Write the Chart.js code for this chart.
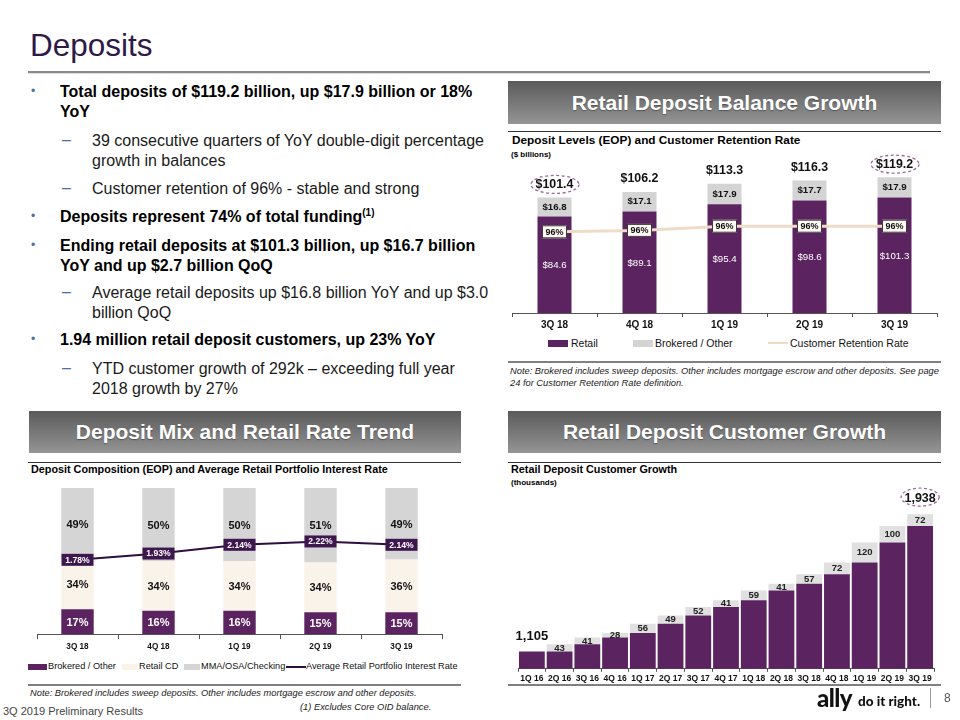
<!DOCTYPE html>
<html><head><meta charset="utf-8">
<script src="https://cdn.jsdelivr.net/npm/chart.js@4.4.1/dist/chart.umd.min.js"></script>
<style>
html,body{margin:0;padding:0;background:#fff;}
body{width:960px;height:720px;position:relative;overflow:hidden;font-family:Arial,"Liberation Sans",sans-serif;color:#000;}
.a{position:absolute;white-space:nowrap;}
.title{left:30px;top:25px;font-size:31.5px;color:#2f1a47;line-height:40px;}
.rule{position:absolute;}
.p{position:absolute;font-size:16px;line-height:19.5px;white-space:nowrap;}
.b{left:60px;font-weight:bold;color:#000;}
.s{left:92px;color:#1a1a1a;}
.mk{position:absolute;color:#4d6ca3;}
.hdr{position:absolute;height:42px;line-height:42px;text-align:center;color:#fff;font-weight:bold;font-size:21px;background:linear-gradient(to bottom,#5a5a5a,#959595);text-shadow:0 1px 1px rgba(0,0,0,0.35);}
.ct{position:absolute;font-weight:bold;white-space:nowrap;}
.sub{position:absolute;font-weight:bold;font-size:8px;white-space:nowrap;}
.note{position:absolute;font-style:italic;font-size:9.3px;color:#222;white-space:nowrap;}
.lg{position:absolute;white-space:nowrap;color:#111;}
.sw{position:absolute;}
canvas{position:absolute;}
</style></head><body>

<div class="a title">Deposits</div>
<div class="rule" style="left:28px;top:71px;width:902px;height:2px;background:#8a8a8a;box-shadow:0 1px 1px rgba(0,0,0,0.15);"></div>

<span class="mk" style="left:31px;top:84px;font-size:12px;">•</span>
<div class="p b" style="top:82px;">Total deposits of $119.2 billion, up $17.9 billion or 18%<br>YoY</div>
<span class="mk" style="left:62px;top:131px;font-size:16px;">–</span>
<div class="p s" style="top:131px;">39 consecutive quarters of YoY double-digit percentage<br>growth in balances</div>
<span class="mk" style="left:62px;top:179px;font-size:16px;">–</span>
<div class="p s" style="top:179px;">Customer retention of 96% - stable and strong</div>
<span class="mk" style="left:31px;top:209px;font-size:12px;">•</span>
<div class="p b" style="top:207px;">Deposits represent 74% of total funding<sup style="font-size:10px;line-height:0;">(1)</sup></div>
<span class="mk" style="left:31px;top:238px;font-size:12px;">•</span>
<div class="p b" style="top:236px;">Ending retail deposits at $101.3 billion, up $16.7 billion<br>YoY and up $2.7 billion QoQ</div>
<span class="mk" style="left:62px;top:283px;font-size:16px;">–</span>
<div class="p s" style="top:283px;">Average retail deposits up $16.8 billion YoY and up $3.0<br>billion QoQ</div>
<span class="mk" style="left:31px;top:332px;font-size:12px;">•</span>
<div class="p b" style="top:330px;">1.94 million retail deposit customers, up 23% YoY</div>
<span class="mk" style="left:62px;top:359px;font-size:16px;">–</span>
<div class="p s" style="top:359px;">YTD customer growth of 292k – exceeding full year<br>2018 growth by 27%</div>

<!-- Top right panel -->
<div class="hdr" style="left:508px;top:81px;width:433px;height:43px;line-height:43px;">Retail Deposit Balance Growth</div>
<div class="rule" style="left:508px;top:131px;width:433px;height:1px;background:#333;"></div>
<div class="ct" style="left:512px;top:133px;font-size:11.8px;">Deposit Levels (EOP) and Customer Retention Rate</div>
<div class="sub" style="left:511px;top:150px;">($ billions)</div>
<canvas id="c1" width="433" height="188" style="left:508px;top:145px;"></canvas>
<div class="sw" style="left:548px;top:340px;width:20px;height:7px;background:#5b2360;"></div>
<div class="lg" style="left:571px;top:337px;font-size:10.5px;">Retail</div>
<div class="sw" style="left:633px;top:340px;width:20px;height:7px;background:#d4d4d4;"></div>
<div class="lg" style="left:655px;top:337px;font-size:10.5px;">Brokered / Other</div>
<div class="sw" style="left:768px;top:342px;width:20px;height:2px;background:#efdcc6;"></div>
<div class="lg" style="left:790px;top:337px;font-size:10.5px;">Customer Retention Rate</div>
<div class="rule" style="left:508px;top:361px;width:433px;height:2px;background:#808080;"></div>
<div class="note" style="left:510px;top:366px;">Note: Brokered includes sweep deposits. Other includes mortgage escrow and other deposits. See page</div>
<div class="note" style="left:510px;top:378px;">24 for Customer Retention Rate definition.</div>

<!-- Bottom left panel -->
<div class="hdr" style="left:29px;top:411px;width:432px;">Deposit Mix and Retail Rate Trend</div>
<div class="rule" style="left:28px;top:462px;width:433px;height:1px;background:#333;"></div>
<div class="ct" style="left:31px;top:463px;font-size:10.8px;">Deposit Composition (EOP) and Average Retail Portfolio Interest Rate</div>
<canvas id="c2" width="433" height="170" style="left:28px;top:485px;"></canvas>
<div class="sw" style="left:28px;top:664px;width:19px;height:6px;background:#5b2360;"></div>
<div class="lg" style="left:48px;top:661px;font-size:9.2px;">Brokered / Other</div>
<div class="sw" style="left:122px;top:664px;width:16px;height:6px;background:#faf3ea;"></div>
<div class="lg" style="left:139px;top:661px;font-size:9.2px;">Retail CD</div>
<div class="sw" style="left:184px;top:664px;width:16px;height:6px;background:#d5d5d5;"></div>
<div class="lg" style="left:201px;top:661px;font-size:9.2px;">MMA/OSA/Checking</div>
<div class="sw" style="left:286px;top:666px;width:20px;height:2px;background:#2e0f3e;"></div>
<div class="lg" style="left:306px;top:661px;font-size:9.2px;">Average Retail Portfolio Interest Rate</div>
<div class="rule" style="left:28px;top:684px;width:433px;height:2px;background:#808080;"></div>
<div class="note" style="left:30px;top:688px;">Note: Brokered includes sweep deposits. Other includes mortgage escrow and other deposits.</div>
<div class="note" style="left:300px;top:702px;">(1) Excludes Core OID balance.</div>
<div class="a" style="left:3px;top:705px;font-size:11px;color:#444;">3Q 2019 Preliminary Results</div>

<!-- Bottom right panel -->
<div class="hdr" style="left:508px;top:411px;width:433px;">Retail Deposit Customer Growth</div>
<div class="rule" style="left:508px;top:462px;width:433px;height:1px;background:#333;"></div>
<div class="ct" style="left:511px;top:463px;font-size:10.8px;">Retail Deposit Customer Growth</div>
<div class="sub" style="left:511px;top:478px;">(thousands)</div>
<canvas id="c3" width="433" height="201" style="left:508px;top:485px;"></canvas>
<div class="rule" style="left:508px;top:684px;width:433px;height:2px;background:#808080;"></div>

<div class="a" style="left:817px;top:685px;font-family:Lato,'Open Sans',sans-serif;font-weight:900;font-size:24px;line-height:26px;color:#111;letter-spacing:-0.6px;">ally</div>
<div class="a" style="left:858px;top:693px;font-family:Lato,'Open Sans',sans-serif;font-weight:900;font-size:13.5px;line-height:16px;color:#111;">do it right.</div>
<div class="rule" style="left:930px;top:688px;width:1px;height:20px;background:#999;"></div>
<div class="a" style="left:944px;top:691px;font-size:12px;color:#555;">8</div>

<script>
// ---------- Data ----------
const balanceQuarters = ['3Q 18', '4Q 18', '1Q 19', '2Q 19', '3Q 19'];
const retailBalances = [84.6, 89.1, 95.4, 98.6, 101.3];
const brokeredBalances = [16.8, 17.1, 17.9, 17.7, 17.9];
const retentionRate = [95.8, 95.9, 96.2, 96.2, 96.2];
const retentionLabels = ['96%', '96%', '96%', '96%', '96%'];

const mixQuarters = ['3Q 18', '4Q 18', '1Q 19', '2Q 19', '3Q 19'];
const mixBrokered = [17, 16, 16, 15, 15];
const mixRetailCD = [34, 34, 34, 34, 36];
const mixMMA = [49, 50, 50, 51, 49];
const retailRate = [1.78, 1.93, 2.14, 2.22, 2.14];

const customerQuarters = ['1Q 16', '2Q 16', '3Q 16', '4Q 16', '1Q 17', '2Q 17', '3Q 17', '4Q 17',
  '1Q 18', '2Q 18', '3Q 18', '4Q 18', '1Q 19', '2Q 19', '3Q 19'];
const customerBase = [1105, 1105, 1148, 1189, 1217, 1273, 1322, 1374, 1415, 1474, 1515, 1572, 1644, 1764, 1864];
const customerAdds = [0, 43, 41, 28, 56, 49, 52, 41, 59, 41, 57, 72, 120, 100, 72];
const customerStartLabel = '1,105';
const customerEndLabel = '1,938';

// ---------- Styles ----------
const FONT = 'Arial, "Liberation Sans", sans-serif';
const PURPLE = '#5b2360';
const GRAY = '#d4d4d4';
Chart.defaults.font.family = FONT;
Chart.defaults.animation = false;

function f(size, bold) { return (bold ? 'bold ' : '') + size + 'px ' + FONT; }
function ellipse(ctx, x, y, rx, ry) {
  ctx.save();
  ctx.strokeStyle = '#9a6b98';
  ctx.lineWidth = 1.3;
  ctx.setLineDash([3, 2.5]);
  ctx.beginPath();
  ctx.ellipse(x, y, rx, ry, 0, 0, Math.PI * 2);
  ctx.stroke();
  ctx.restore();
}
function xAxis(fontSize, tickLen, pad) {
  return {
    stacked: true, offset: true,
    grid: { display: true, offset: true, drawOnChartArea: false, drawTicks: true, tickLength: tickLen, color: '#555', lineWidth: 1 },
    border: { display: true, color: '#555', width: 1 },
    ticks: { font: { size: fontSize, weight: 'bold' }, color: '#111', padding: pad, autoSkip: false, maxRotation: 0 }
  };
}

// ---------- Chart 1 ----------
const balancePlugin = {
  id: 'balanceLabels',
  afterDatasetsDraw(chart) {
    const ctx = chart.ctx;
    const line = chart.getDatasetMeta(0).data;
    const retail = chart.getDatasetMeta(1).data;
    const brok = chart.getDatasetMeta(2).data;
    ctx.save();
    ctx.textAlign = 'center';
    ctx.textBaseline = 'middle';
    retail.forEach((b, i) => {
      ctx.fillStyle = '#fff';
      ctx.font = f(9.7, false);
      ctx.fillText('$' + retailBalances[i].toFixed(1), b.x, (b.y + b.base) / 2 + 1);
    });
    brok.forEach((b, i) => {
      ctx.fillStyle = '#111';
      ctx.font = f(9.7, true);
      ctx.fillText('$' + brokeredBalances[i].toFixed(1), b.x, (b.y + b.base) / 2);
      const total = '$' + (retailBalances[i] + brokeredBalances[i]).toFixed(1);
      ctx.font = f(12.4, true);
      ctx.fillText(total, b.x, b.y - 13);
      if (i === 0 || i === brok.length - 1) ellipse(ctx, b.x + 0.5, b.y - 13, 24, 9);
    });
    line.forEach((p, i) => {
      const w = 25, h = 13;
      ctx.fillStyle = '#fffaf3';
      ctx.strokeStyle = '#3a3a3a';
      ctx.lineWidth = 1;
      ctx.fillRect(p.x - w / 2, p.y - h / 2, w, h);
      ctx.strokeRect(p.x - w / 2 + 0.5, p.y - h / 2 + 0.5, w - 1, h - 1);
      ctx.fillStyle = '#111';
      ctx.font = f(9, true);
      ctx.fillText(retentionLabels[i], p.x, p.y + 0.5);
    });
    ctx.restore();
  }
};

new Chart(document.getElementById('c1'), {
  data: {
    labels: balanceQuarters,
    datasets: [
      { type: 'line', label: 'Customer Retention Rate', data: retentionRate, yAxisID: 'y2',
        borderColor: '#efdcc6', borderWidth: 3, pointRadius: 0, order: 0, tension: 0 },
      { type: 'bar', label: 'Retail', data: retailBalances, backgroundColor: PURPLE, stack: 's',
        order: 1, barPercentage: 0.4, categoryPercentage: 1 },
      { type: 'bar', label: 'Brokered / Other', data: brokeredBalances, backgroundColor: GRAY, stack: 's',
        order: 1, barPercentage: 0.4, categoryPercentage: 1 }
    ]
  },
  options: {
    responsive: false, animation: false,
    layout: { padding: { left: 4, right: 4, top: 0, bottom: 0 } },
    plugins: { legend: { display: false }, tooltip: { enabled: false } },
    scales: {
      x: xAxis(10, 4, 2),
      y: { stacked: true, display: false, min: 0, max: 147.4 },
      y2: { display: false, min: 90, max: 102 }
    }
  },
  plugins: [balancePlugin]
});

// ---------- Chart 2 ----------
const mixPlugin = {
  id: 'mixLabels',
  afterDatasetsDraw(chart) {
    const ctx = chart.ctx;
    const line = chart.getDatasetMeta(0).data;
    const sets = [[1, mixBrokered, '#fff'], [2, mixRetailCD, '#111'], [3, mixMMA, '#111']];
    ctx.save();
    ctx.textAlign = 'center';
    ctx.textBaseline = 'middle';
    ctx.font = f(11, true);
    sets.forEach(([idx, vals, col]) => {
      chart.getDatasetMeta(idx).data.forEach((b, i) => {
        ctx.fillStyle = col;
        ctx.fillText(vals[i] + '%', b.x, (b.y + b.base) / 2 + 1);
      });
    });
    line.forEach((p, i) => {
      const w = 32, h = 12;
      ctx.fillStyle = '#3d174e';
      ctx.fillRect(p.x - w / 2, p.y - h / 2, w, h);
      ctx.fillStyle = '#fff';
      ctx.font = f(8.6, true);
      ctx.fillText(retailRate[i].toFixed(2) + '%', p.x, p.y + 0.5);
    });
    ctx.restore();
  }
};

new Chart(document.getElementById('c2'), {
  data: {
    labels: mixQuarters,
    datasets: [
      { type: 'line', label: 'Average Retail Portfolio Interest Rate', data: retailRate, yAxisID: 'y2',
        borderColor: '#2e0f3e', borderWidth: 2, pointRadius: 0, order: 0, tension: 0 },
      { type: 'bar', label: 'Brokered / Other', data: mixBrokered, backgroundColor: PURPLE, stack: 's',
        order: 1, barPercentage: 0.4, categoryPercentage: 1 },
      { type: 'bar', label: 'Retail CD', data: mixRetailCD, backgroundColor: '#faf3ea', stack: 's',
        order: 1, barPercentage: 0.4, categoryPercentage: 1 },
      { type: 'bar', label: 'MMA/OSA/Checking', data: mixMMA, backgroundColor: '#d5d5d5', stack: 's',
        order: 1, barPercentage: 0.4, categoryPercentage: 1 }
    ]
  },
  options: {
    responsive: false, animation: false,
    layout: { padding: { left: 9, right: 19, top: 3, bottom: 0 } },
    plugins: { legend: { display: false }, tooltip: { enabled: false } },
    scales: {
      x: xAxis(8.2, 5, 3),
      y: { stacked: true, display: false, min: 0, max: 100 },
      y2: { display: false, min: 0, max: 3.5 }
    }
  },
  plugins: [mixPlugin]
});

// ---------- Chart 3 ----------
const customerPlugin = {
  id: 'customerLabels',
  afterDatasetsDraw(chart) {
    const ctx = chart.ctx;
    const base = chart.getDatasetMeta(0).data;
    const adds = chart.getDatasetMeta(1).data;
    ctx.save();
    ctx.textAlign = 'center';
    ctx.textBaseline = 'middle';
    ctx.fillStyle = '#222';
    adds.forEach((b, i) => {
      if (customerAdds[i] > 0) {
        ctx.font = f(9.5, true);
        ctx.fillText(String(customerAdds[i]), b.x, (b.y + b.base) / 2);
      }
    });
    ctx.fillStyle = '#111';
    ctx.font = f(13, true);
    const b0 = base[0];
    ctx.fillText(customerStartLabel, b0.x, b0.y - 15);
    const bl = adds[adds.length - 1];
    ctx.font = f(12.5, true);
    ctx.fillText(customerEndLabel, bl.x, bl.y - 16);
    ellipse(ctx, bl.x, bl.y - 17, 19, 9);
    ctx.restore();
  }
};

new Chart(document.getElementById('c3'), {
  type: 'bar',
  data: {
    labels: customerQuarters,
    datasets: [
      { label: 'Customers (prior quarter)', data: customerBase, backgroundColor: PURPLE, stack: 's',
        barPercentage: 0.93, categoryPercentage: 1 },
      { label: 'Customer additions', data: customerAdds, backgroundColor: '#e0e0e0', stack: 's',
        barPercentage: 0.93, categoryPercentage: 1 }
    ]
  },
  options: {
    responsive: false, animation: false,
    layout: { padding: { left: 10, right: 7, top: 5, bottom: 0 } },
    plugins: { legend: { display: false }, tooltip: { enabled: false } },
    scales: {
      x: xAxis(8.5, 3, 2),
      y: { stacked: true, display: false, min: 1000, max: 2082 }
    }
  },
  plugins: [customerPlugin]
});
</script>
</body></html>
